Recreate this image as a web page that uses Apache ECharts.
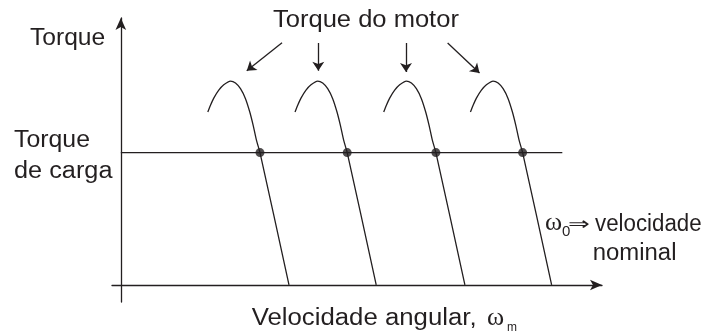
<!DOCTYPE html>
<html>
<head>
<meta charset="utf-8">
<script src="https://cdn.jsdelivr.net/npm/echarts@6/dist/echarts.min.js"></script>
<style>
  html, body { margin: 0; padding: 0; background: #fff; }
  #chart { width: 717px; height: 333px; }
</style>
</head>
<body>
<div id="chart"></div>
<script>
// torque vs. angular speed, arbitrary units
const loadTorque = 46.6;
const loadLineX = [0, 90.1];

// four motor torque curves (speed, torque)
const curve1X = [17.75, 18.3, 18.97, 19.99, 21.01, 22.38, 23.4, 24.42, 25.44, 26.32, 27.01, 27.69, 28.4, 34.32];
const curve2X = [35.55, 36.1, 36.77, 37.79, 38.81, 40.18, 41.2, 42.22, 43.24, 44.12, 44.81, 45.49, 46.2, 52.12];
const curve3X = [53.65, 54.2, 54.87, 55.89, 56.91, 58.28, 59.3, 60.32, 61.34, 62.22, 62.91, 63.59, 64.3, 70.22];
const curve4X = [71.35, 71.9, 72.57, 73.59, 74.61, 75.98, 77.0, 78.02, 79.04, 79.92, 80.61, 81.29, 82.0, 87.92];
const curve1Y = [60.9, 63.3, 65.8, 68.6, 70.5, 71.8, 71.1, 69.1, 65.6, 60.9, 56.2, 50.9, 46.6, 0];
const curve2Y = [60.9, 63.3, 65.8, 68.6, 70.5, 71.8, 71.1, 69.1, 65.6, 60.9, 56.2, 50.9, 46.6, 0];
const curve3Y = [60.9, 63.3, 65.8, 68.6, 70.5, 71.8, 71.1, 69.1, 65.6, 60.9, 56.2, 50.9, 46.6, 0];
const curve4Y = [60.9, 63.3, 65.8, 68.6, 70.5, 71.8, 71.1, 69.1, 65.6, 60.9, 56.2, 50.9, 46.6, 0];

// operating points (intersection with load torque)
const opSpeeds = [28.4, 46.2, 64.3, 82.0];

// annotation arrows "Torque do motor"
const arrowFrom = [[32.9, 85.3], [40.3, 85.2], [58.2, 85.2], [66.7, 85.2]];
const arrowTo = [[25.7, 75.4], [40.3, 75.4], [58.2, 75.0], [73.2, 74.6]];

// labels
const yLabel = "Torque";
const loadLabel = ["Torque", "de carga"];
const motorLabel = "Torque do motor";
const xLabel = ["Velocidade angular,", "ω", "m"];
const noteLabel = ["ω", "0", "⇒", "velocidade", "nominal"];

const ink = "#231f20";
const sans = "Liberation Sans, Arial, Helvetica, sans-serif";
const serif = "Liberation Serif, DejaVu Serif, serif";

function pairs(xs, ys) {
  return xs.map((x, i) => [x, ys[i]]);
}

function curve(xs, ys) {
  return {
    type: "line",
    data: pairs(xs, ys),
    smooth: 0.25,
    symbol: "none",
    lineStyle: { color: ink, width: 1.3 },
  };
}

// text placed by its left edge and baseline
function label(text, x, baseline, size, opts) {
  opts = opts || {};
  return {
    type: "text",
    x: x,
    y: baseline - 0.35 * size,
    scaleX: opts.scaleX || 1,
    style: {
      text: text,
      font: size + "px " + (opts.family || sans),
      fill: ink,
      textVerticalAlign: "middle",
    },
  };
}

const chart = echarts.init(document.getElementById("chart"));

const option = {
  animation: false,
  grid: { left: 112, right: 115, top: 18, bottom: 31 },
  xAxis: {
    type: "value",
    min: -1.8,
    max: 98.2,
    axisLine: {
      onZero: true,
      symbol: ["none", "arrow"],
      symbolSize: [8, 12],
      lineStyle: { color: ink, width: 1.3 },
    },
    axisTick: { show: false },
    axisLabel: { show: false },
    splitLine: { show: false },
  },
  yAxis: {
    type: "value",
    min: -6,
    max: 94,
    axisLine: {
      show: true,
      onZero: true,
      symbol: ["none", "arrow"],
      symbolSize: [8, 12],
      lineStyle: { color: ink, width: 1.3 },
    },
    axisTick: { show: false },
    axisLabel: { show: false },
    splitLine: { show: false },
  },
  series: [
    {
      type: "line",
      data: loadLineX.map((x) => [x, loadTorque]),
      symbol: "none",
      lineStyle: { color: ink, width: 1.3 },
    },
    curve(curve1X, curve1Y),
    curve(curve2X, curve2Y),
    curve(curve3X, curve3Y),
    curve(curve4X, curve4Y),
    {
      type: "scatter",
      data: opSpeeds.map((x) => [x, loadTorque]),
      symbolSize: 9,
      itemStyle: { color: ink },
      z: 5,
    },
    {
      type: "lines",
      coordinateSystem: "cartesian2d",
      data: arrowFrom.map((p, i) => ({ coords: [p, arrowTo[i]] })),
      symbol: ["none", "arrow"],
      symbolSize: 9,
      lineStyle: { color: ink, width: 1.3, opacity: 1 },
    },
  ],
  graphic: [
    label(yLabel, 30, 47, 23, { scaleX: 1.07 }),
    label(loadLabel[0], 14, 148.5, 23, { scaleX: 1.08 }),
    label(loadLabel[1], 14, 179.5, 23, { scaleX: 1.1 }),
    label(motorLabel, 273, 28.5, 23, { scaleX: 1.11 }),
    label(xLabel[0], 251.7, 327, 23, { scaleX: 1.12 }),
    label(xLabel[1], 487, 327, 26, { family: serif }),
    label(xLabel[2], 507, 332, 12),
    label(noteLabel[0], 545, 232, 26, { family: serif }),
    label(noteLabel[1], 562, 237, 15),
    label(noteLabel[2], 568, 232, 18, { family: "DejaVu Sans", scaleX: 1.45 }),
    label(noteLabel[3], 595, 233, 23, { scaleX: 0.97 }),
    label(noteLabel[4], 592.7, 262, 23, { scaleX: 1.04 }),
  ],
};

chart.setOption(option);
</script>
</body>
</html>
